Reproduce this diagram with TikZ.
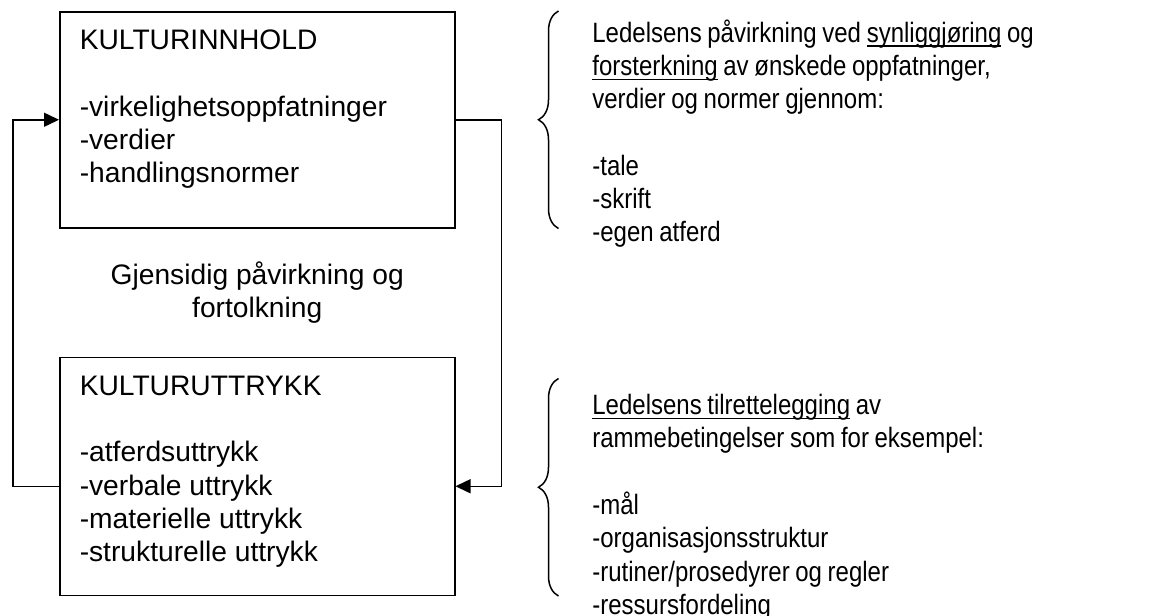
\documentclass[tikz,border=0pt]{standalone}
\usepackage{fontspec}
\setmainfont{Liberation Sans}
\newfontfamily\narrowfont[FakeStretch=0.857,WordSpace=0.845]{Liberation Sans}
\usetikzlibrary{arrows.meta,positioning,decorations.pathreplacing}
\newsavebox{\undlbox}
\newcommand{\undl}[1]{\sbox{\undlbox}{#1}\leavevmode\rlap{\rule[-2.3pt]{\wd\undlbox}{0.7pt}}\usebox{\undlbox}}

\begin{document}
\begin{tikzpicture}[
  x=0.5pt, y=-0.5pt,
  every node/.style = {font=\fontsize{14.1}{16.65}\selectfont},
  box/.style = {draw, line width=0.75pt, text width=177.5pt, align=flush left,
    inner xsep=10pt, inner ysep=0pt, text height=19pt, anchor=north west},
  note/.style = {font=\fontsize{14}{16.65}\selectfont\narrowfont,
    text width=240pt, align=flush left, inner sep=0pt, anchor=base west},
  flow/.style = {line width=0.75pt, -{Triangle[length=7.5pt,width=7pt]}},
  curly/.style = {line width=0.75pt, decorate, decoration={brace, amplitude=10pt}}
]
  \useasboundingbox (0,0) rectangle (1158,616);

  \node[box, text depth=89pt] (inn) at (59,11)
    {KULTURINNHOLD\\[\baselineskip]-virkelighetsoppfatninger\\-verdier\\-handlingsnormer};
  \node[box, text depth=100pt, below=64pt of inn] (uttr)
    {KULTURUTTRYKK\\[\baselineskip]-atferdsuttrykk\\-verbale uttrykk\\-materielle uttrykk\\-strukturelle uttrykk};
  \path (inn.south) -- (uttr.north)
    node[midway, align=flush center] (gjens) {Gjensidig påvirkning og\\fortolkning};

  % the loop between the two boxes
  \draw[flow] ([yshift=-5pt]uttr.west) -- ++(-23pt,0) |- (inn.west);
  \draw[flow] (inn.east) -- ++(23pt,0) |- ([yshift=-5pt]uttr.east);

  % braces and the notes beside them
  \draw[curly] ([xshift=51.5pt]inn.south east) -- ([xshift=51.5pt]inn.north east);
  \draw[curly] ([xshift=51.5pt]uttr.south east) -- ([xshift=51.5pt,yshift=-11pt]uttr.north east);

  \node[note] (synlig) at (592,42)
    {Ledelsens påvirkning ved \undl{synliggjøring} og\\\undl{forsterkning} av ønskede oppfatninger,\\verdier og normer gjennom:\\[\baselineskip]-tale\\-skrift\\-egen atferd};
  \node[note] (tilrett) at (592,414.5)
    {\undl{Ledelsens tilrettelegging} av\\rammebetingelser som for eksempel:\\[\baselineskip]-mål\\-organisasjonsstruktur\\-rutiner/prosedyrer og regler\\-ressursfordeling};
\end{tikzpicture}
\end{document}
